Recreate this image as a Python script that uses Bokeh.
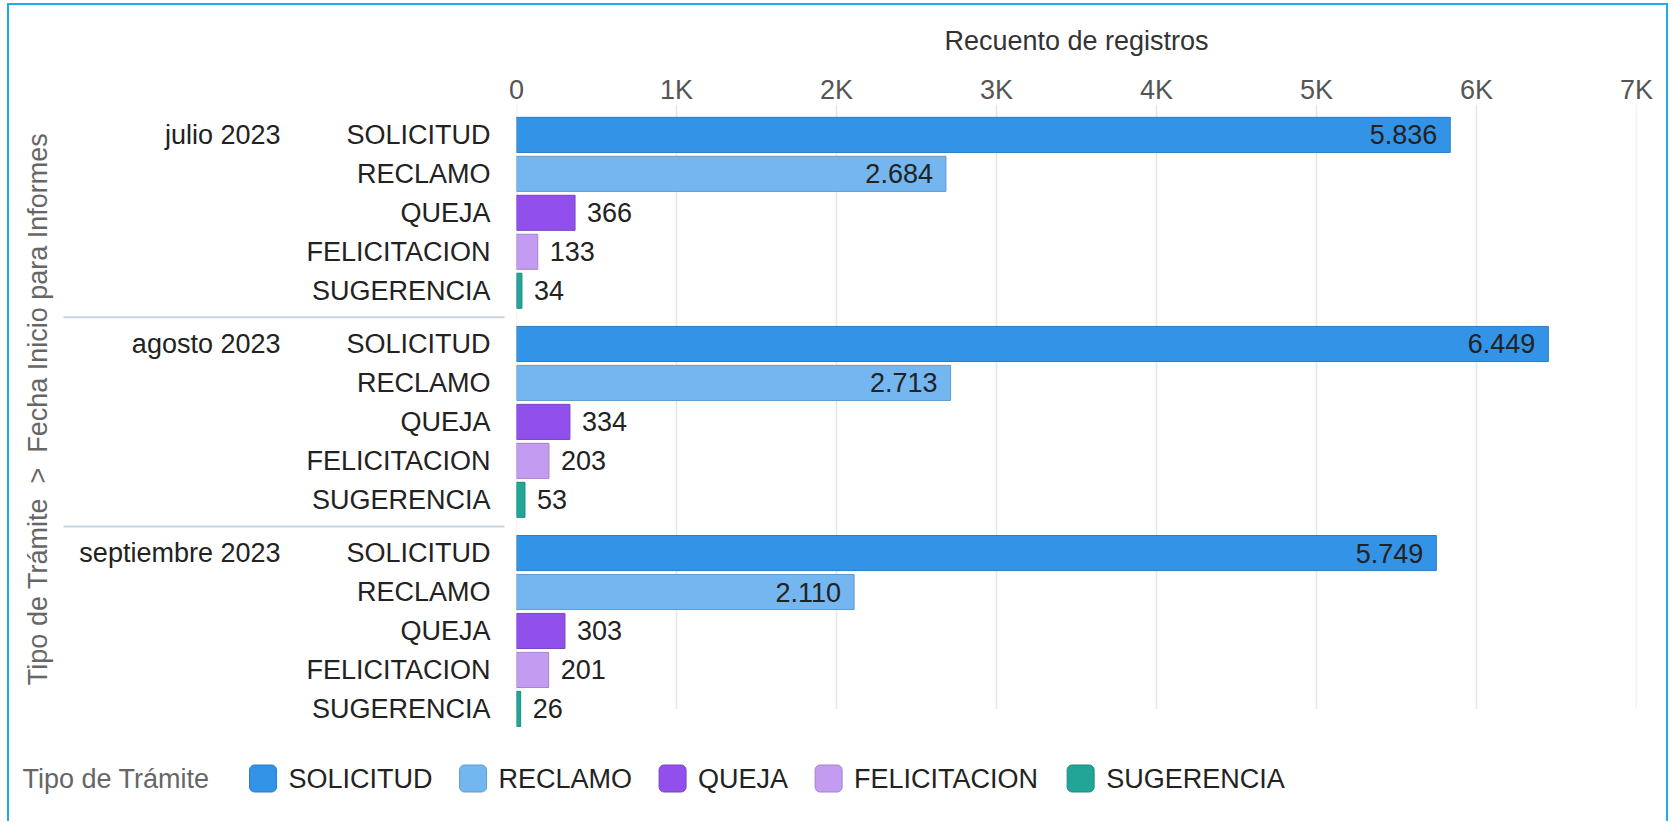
import math
from bokeh.plotting import figure
from bokeh.layouts import column
from bokeh.models import ColumnDataSource, Range1d, FixedTicker, Rect
from bokeh.core.properties import value
from bokeh.embed import file_html
from bokeh.resources import INLINE

# ---------------- data ----------------
months = ["julio 2023", "agosto 2023", "septiembre 2023"]
types = ["SOLICITUD", "RECLAMO", "QUEJA", "FELICITACION", "SUGERENCIA"]
solicitud = [5836, 6449, 5749]
reclamo = [2684, 2713, 2110]
queja = [366, 334, 303]
felicitacion = [133, 203, 201]
sugerencia = [34, 53, 26]
type_colors = ["#3393E6", "#74B6F0", "#9150EC", "#C39BF0", "#22A597"]
x_ticks = [0, 1000, 2000, 3000, 4000, 5000, 6000, 7000]
x_tick_labels = ["0", "1K", "2K", "3K", "4K", "5K", "6K", "7K"]
x_title = "Recuento de registros"
y_title = "Tipo de Trámite \u00a0>\u00a0 Fecha Inicio para Informes"
legend_title = "Tipo de Trámite"

# ---------------- layout ----------------
FONT = "Liberation Sans"
FS_PX = 27
FS = f"{FS_PX}px"
W = 1657
H_MAIN, H_LEG = 731, 85
FRAME_L, FRAME_R, FRAME_T = 507, 1627, 99
ROW_PX = 38.95
ROW_GAP = 0.366
TOP_PAD, BOT_PAD = 0.78, 0.58
X_MAX = 7000
SCALE = (FRAME_R - FRAME_L) / X_MAX
BORDER = "2px solid #1DADEB"

# Arial / Liberation Sans advance widths (1/1000 em) for measuring legend texts
ARIAL = {"A": 667, "C": 722, "D": 722, "E": 667, "F": 611, "G": 778, "I": 278, "J": 500,
         "L": 556, "M": 833, "N": 722, "O": 778, "Q": 778, "R": 722, "S": 667, "T": 611,
         "U": 722, " ": 278, "i": 222, "p": 556, "o": 556, "d": 556, "e": 556, "r": 333,
         "á": 556, "m": 833, "t": 278}


def text_w(s):
    return sum(ARIAL.get(ch, 556) for ch in s) / 1000 * FS_PX


def darker(c, f=0.85):
    r, g, b = int(c[1:3], 16), int(c[3:5], 16), int(c[5:7], 16)
    return "#%02x%02x%02x" % (int(r * f), int(g * f), int(b * f))


series = [solicitud, reclamo, queja, felicitacion, sugerencia]
pos, vals, names, cols, lcols, labs, aligns, xoffs = [], [], [], [], [], [], [], []
month_pos = []
for g, m in enumerate(months):
    base = g * (len(types) + ROW_GAP)
    month_pos.append(base)
    for t, name in enumerate(types):
        v = series[t][g]
        pos.append(base + t)
        vals.append(v)
        names.append(name)
        cols.append(type_colors[t])
        lcols.append(darker(type_colors[t]))
        labs.append(f"{v:,}".replace(",", "."))
        inside = v >= 1000
        aligns.append("right" if inside else "left")
        xoffs.append(-13 if inside else 12)

last = pos[-1]
frame_h = (last + TOP_PAD + BOT_PAD) * ROW_PX
min_bottom = max(0, int(round(H_MAIN - FRAME_T - frame_h)))

src = ColumnDataSource(dict(pos=pos, val=vals, name=names, color=cols, line=lcols,
                            lab=labs, align=aligns, xoff=xoffs))

p = figure(width=W, height=H_MAIN,
           x_range=Range1d(0, X_MAX), y_range=Range1d(last + BOT_PAD, -TOP_PAD),
           x_axis_location="above", y_axis_location=None,
           output_backend="svg", toolbar_location=None,
           min_border_left=FRAME_L, min_border_right=W - FRAME_R,
           min_border_top=FRAME_T, min_border_bottom=min_bottom,
           outline_line_color=None, background_fill_color="white",
           border_fill_color="white")

p.xgrid.visible = False
p.ygrid.visible = False

ax = p.xaxis[0]
ax.ticker = FixedTicker(ticks=x_ticks)
ax.major_label_overrides = dict(zip(x_ticks, x_tick_labels))
ax.axis_label = x_title
ax.axis_label_text_font = FONT
ax.axis_label_text_font_size = FS
ax.axis_label_text_font_style = "normal"
ax.axis_label_text_color = "#333333"
ax.axis_label_standoff = 16
ax.major_label_text_font = FONT
ax.major_label_text_font_size = FS
ax.major_label_text_color = "#555555"
ax.major_label_standoff = -6
ax.axis_line_color = None
ax.major_tick_line_color = None
ax.minor_tick_line_color = None

# grid lines (from the top of the frame down to the last category)
p.segment(x0=x_ticks, y0=[-TOP_PAD] * len(x_ticks), x1=x_ticks, y1=[last] * len(x_ticks),
          line_color="#E3E7EC", line_width=1.5, level="underlay")

bars = p.hbar(y="pos", left=0, right="val", height=0.9, fill_color="color",
              line_color="line", line_width=1, source=src)

# value labels
p.text(x="val", y="pos", text="lab", text_align="align", x_offset="xoff",
       text_baseline="middle", text_font=value(FONT), text_font_size=FS,
       text_color="#222222", source=src, level="overlay")

# category labels
p.text(x=0, y="pos", text="name", x_offset=-26, text_align="right",
       text_baseline="middle", text_font=value(FONT), text_font_size=FS,
       text_color="#222222", source=src, level="overlay")

# month labels
msrc = ColumnDataSource(dict(pos=month_pos, month=months))
p.text(x=0, y="pos", text="month", x_offset=-236, text_align="right",
       text_baseline="middle", text_font=value(FONT), text_font_size=FS,
       text_color="#222222", source=msrc, level="overlay")

# separators between months
sep_y = [month_pos[g] - (1 + ROW_GAP) / 2 for g in range(1, len(months))]
p.segment(x0=[-453 / SCALE] * len(sep_y), x1=[-12 / SCALE] * len(sep_y), y0=sep_y, y1=sep_y,
          line_color="#C9D4E0", line_width=2, level="overlay")

# y title
p.text(x=[0], y=[(pos[0] + last) / 2], text=[y_title], angle=math.pi / 2,
       x_offset=-479, y_offset=-13, text_align="center", text_baseline="middle",
       text_font=value(FONT), text_font_size=FS, text_color="#666666", level="overlay")

# ---------------- legend strip (data units == canvas pixels) ----------------
q = figure(width=W, height=H_LEG, x_range=Range1d(FRAME_L, FRAME_R), y_range=Range1d(H_LEG, 0),
           x_axis_location=None, y_axis_location=None,
           output_backend="svg", toolbar_location=None,
           min_border_left=FRAME_L, min_border_right=W - FRAME_R,
           min_border_top=0, min_border_bottom=0,
           outline_line_color=None, background_fill_color="white",
           border_fill_color="white")
q.xgrid.visible = False
q.ygrid.visible = False

LEG_X, LEG_Y = 13, 42
SW, STANDOFF, SPACING, TITLE_GAP = 27, 12, 27, 38

q.text(x=[LEG_X], y=[LEG_Y], text=[legend_title], text_align="left", text_baseline="middle",
       text_font=value(FONT), text_font_size=FS, text_color="#666666", level="overlay")

sw_x, lab_x = [], []
cur = LEG_X + text_w(legend_title) + TITLE_GAP
for t in types:
    sw_x.append(cur + SW / 2)
    lab_x.append(cur + SW + STANDOFF)
    cur += SW + STANDOFF + text_w(t) + SPACING

lsrc = ColumnDataSource(dict(sx=sw_x, lx=lab_x, y=[LEG_Y] * len(types), name=types,
                             color=type_colors, line=[darker(c) for c in type_colors]))
rect_kw = {}
if "border_radius" in Rect.properties():
    rect_kw["border_radius"] = 5
q.rect(x="sx", y="y", width=SW, height=SW, fill_color="color", line_color="line",
       line_width=1, source=lsrc, level="overlay", **rect_kw)
q.text(x="lx", y="y", text="name", text_align="left", text_baseline="middle",
       text_font=value(FONT), text_font_size=FS, text_color="#222222", source=lsrc,
       level="overlay")

layout = column(p, q, spacing=0,
                styles={"border-top": BORDER, "border-left": BORDER, "border-right": BORDER,
                        "margin-left": "7px", "margin-top": "3px"})

open("out.html", "w").write(file_html(layout, INLINE))
